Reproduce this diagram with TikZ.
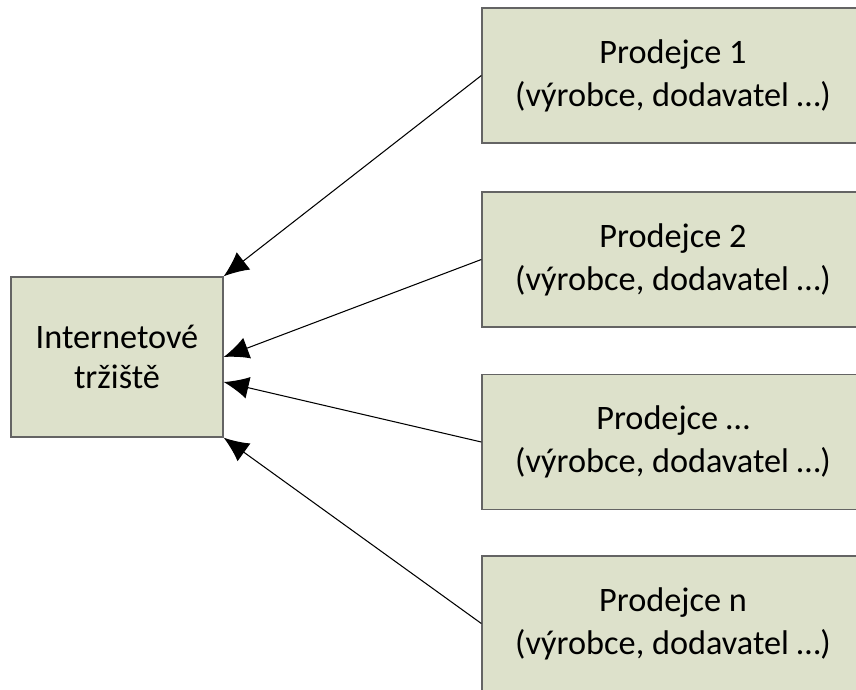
\documentclass[tikz,border=0pt]{standalone}
\usepackage{fontspec}
\setmainfont{Carlito}
\usepackage{tikz}
\usetikzlibrary{shapes,calc,arrows.meta}

\definecolor{boxfill}{RGB}{221,225,203}
\definecolor{boxline}{RGB}{100,100,100}

\tikzset{
  box/.style={draw=boxline, line width=0.8pt, fill=boxfill, align=center,
    font=\fontsize{19.5}{24.5}\selectfont},
  prodbox/.style={box, minimum width=7.64cm, minimum height=2.7cm},
  sipka/.style={-{Latex[length=5mm,width=4.4mm]}, line width=0.6pt}
}

\begin{document}
\begin{tikzpicture}[x=0.02cm,y=-0.02cm]

\useasboundingbox (0,0) rectangle (856,690);

 \node [box, minimum width=4.24cm, minimum height=3.2cm,
   font=\fontsize{19.5}{23}\selectfont] (trziste) at (117,357) {Internetové\\tržiště};

\node [prodbox] (prodejce1) at (673,75.5) {Prodejce 1\\(výrobce, dodavatel …)};
\node [prodbox] (prodejce2) at (673,259.5) {Prodejce 2\\(výrobce, dodavatel …)};
\node [prodbox] (prodejce3) at (673,442) {Prodejce …\\(výrobce, dodavatel …)};
\node [prodbox] (prodejcen) at (673,623.5) {Prodejce n\\(výrobce, dodavatel …)};

\draw [sipka] (prodejce1.west) -- (trziste.north east);
\draw [sipka] (prodejce2.west) -- (trziste.east);
\draw [sipka] (prodejce3.west) -- ($(trziste.east)+(0,25)$);
\draw [sipka] (prodejcen.west) -- (trziste.south east);

\end{tikzpicture}
\end{document}
